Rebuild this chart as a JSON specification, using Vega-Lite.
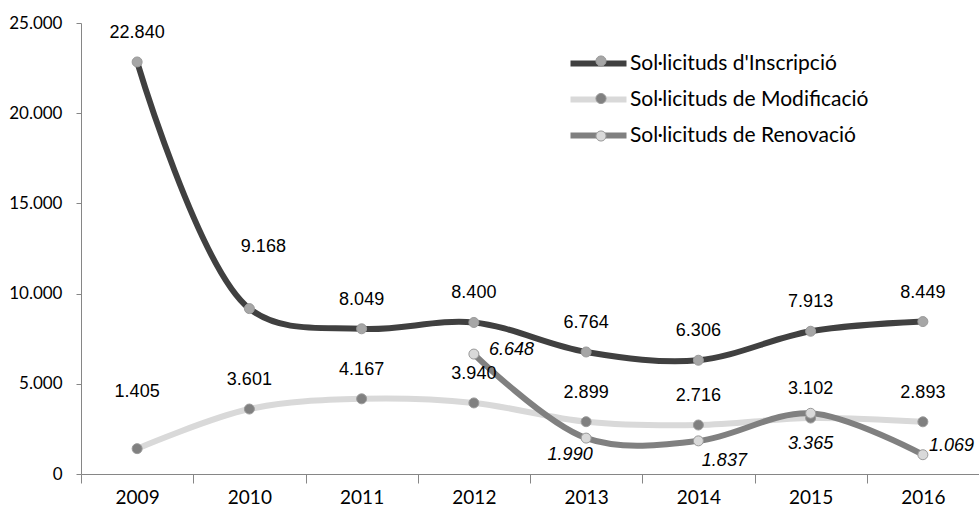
{
  "$schema": "https://vega.github.io/schema/vega-lite/v6.json",
  "autosize": "none",
  "width": 898,
  "height": 451,
  "padding": {"left": 81, "top": 23, "right": 0, "bottom": 34},
  "config": {
    "locale": {"number": {"decimal": ",", "thousands": ".", "grouping": [3], "currency": ["", " €"]}},
    "view": {"stroke": null},
    "font": "Lato"
  },
  "data": {
    "values": [
      {"serie": "Sol·licituds d'Inscripció", "any": "2009", "valor": 22840},
      {"serie": "Sol·licituds d'Inscripció", "any": "2010", "valor": 9168},
      {"serie": "Sol·licituds d'Inscripció", "any": "2011", "valor": 8049},
      {"serie": "Sol·licituds d'Inscripció", "any": "2012", "valor": 8400},
      {"serie": "Sol·licituds d'Inscripció", "any": "2013", "valor": 6764},
      {"serie": "Sol·licituds d'Inscripció", "any": "2014", "valor": 6306},
      {"serie": "Sol·licituds d'Inscripció", "any": "2015", "valor": 7913},
      {"serie": "Sol·licituds d'Inscripció", "any": "2016", "valor": 8449},
      {"serie": "Sol·licituds de Modificació", "any": "2009", "valor": 1405},
      {"serie": "Sol·licituds de Modificació", "any": "2010", "valor": 3601},
      {"serie": "Sol·licituds de Modificació", "any": "2011", "valor": 4167},
      {"serie": "Sol·licituds de Modificació", "any": "2012", "valor": 3940},
      {"serie": "Sol·licituds de Modificació", "any": "2013", "valor": 2899},
      {"serie": "Sol·licituds de Modificació", "any": "2014", "valor": 2716},
      {"serie": "Sol·licituds de Modificació", "any": "2015", "valor": 3102},
      {"serie": "Sol·licituds de Modificació", "any": "2016", "valor": 2893},
      {"serie": "Sol·licituds de Renovació", "any": "2012", "valor": 6648},
      {"serie": "Sol·licituds de Renovació", "any": "2013", "valor": 1990},
      {"serie": "Sol·licituds de Renovació", "any": "2014", "valor": 1837},
      {"serie": "Sol·licituds de Renovació", "any": "2015", "valor": 3365},
      {"serie": "Sol·licituds de Renovació", "any": "2016", "valor": 1069}
    ]
  },
  "encoding": {
    "x": {
      "field": "any", "type": "ordinal",
      "scale": {"type": "band", "paddingInner": 0, "paddingOuter": 0},
      "axis": {
        "title": null, "labelAngle": 0, "tickBand": "extent",
        "domainColor": "#868686", "tickColor": "#868686", "tickSize": 9,
        "labelFont": "Lato", "labelFontSize": 19, "labelColor": "#000", "labelPadding": 5
      }
    },
    "y": {
      "field": "valor", "type": "quantitative",
      "scale": {"domain": [0, 25000], "nice": false},
      "axis": {
        "title": null, "values": [0, 5000, 10000, 15000, 20000, 25000], "format": ",d",
        "grid": false, "domainColor": "#868686", "tickColor": "#868686", "tickSize": 5,
        "labelFont": "Lato", "labelFontSize": 17, "labelColor": "#000", "labelPadding": 14
      }
    }
  },
  "layer": [
    {
      "mark": {"type": "line", "interpolate": "catmull-rom", "strokeWidth": 6, "strokeCap": "round"},
      "encoding": {
        "stroke": {
          "field": "serie", "type": "nominal",
          "scale": {"range": ["#404040", "#d9d9d9", "#808080"]},
          "legend": {
            "title": null, "orient": "none", "legendX": 497, "legendY": 20,
            "symbolType": "M-1.6,0H1.6", "symbolSize": 1225, "symbolStrokeWidth": 6,
            "symbolFillColor": "transparent",
            "labelFont": "Lato", "labelFontSize": 21, "labelColor": "#000", "labelLimit": 400,
            "rowPadding": 3, "labelOffset": 11, "padding": 0
          }
        }
      }
    },
    {
      "mark": {"type": "point", "filled": true, "size": 100, "stroke": "#9a9a9a", "strokeWidth": 1, "opacity": 1},
      "encoding": {
        "fill": {
          "field": "serie", "type": "nominal",
          "scale": {"range": ["#a6a6a6", "#808080", "#d9d9d9"]},
          "legend": {
            "title": null, "orient": "none", "legendX": 502, "legendY": 20,
            "symbolType": "M0.29,0A0.29,0.29,0,1,1,-0.29,0A0.29,0.29,0,1,1,0.29,0Z",
            "symbolSize": 1225, "symbolStrokeColor": "#9a9a9a", "symbolStrokeWidth": 1,
            "labelExpr": "''", "labelFontSize": 21,
            "rowPadding": 9.5, "labelOffset": 11, "padding": 0, "symbolOpacity": 1
          }
        }
      }
    },
    {
      "transform": [{"filter": "datum.serie != 'Sol·licituds de Renovació' && !(datum.serie == \"Sol·licituds d'Inscripció\" && datum.any == '2010') && !(datum.serie == 'Sol·licituds de Modificació' && datum.any == '2009')"}],
      "mark": {"type": "text", "font": "Liberation Sans", "fontSize": 18, "color": "#000", "baseline": "middle", "dy": -29},
      "encoding": {"text": {"field": "valor", "type": "quantitative", "format": ",d"}}
    },
    {
      "transform": [{"filter": "(datum.serie == \"Sol·licituds d'Inscripció\" && datum.any == '2010')"}],
      "mark": {"type": "text", "font": "Liberation Sans", "fontSize": 18, "color": "#000", "baseline": "middle", "dy": -62, "dx": 14},
      "encoding": {"text": {"field": "valor", "type": "quantitative", "format": ",d"}}
    },
    {
      "transform": [{"filter": "(datum.serie == 'Sol·licituds de Modificació' && datum.any == '2009')"}],
      "mark": {"type": "text", "font": "Liberation Sans", "fontSize": 18, "color": "#000", "baseline": "middle", "dy": -57},
      "encoding": {"text": {"field": "valor", "type": "quantitative", "format": ",d"}}
    },
    {
      "transform": [{"filter": "datum.serie == 'Sol·licituds de Renovació' && datum.any == '2012'"}],
      "mark": {"type": "text", "font": "Liberation Sans", "fontSize": 18, "fontStyle": "italic", "color": "#000", "baseline": "middle", "align": "left", "dx": 15, "dy": -4},
      "encoding": {"text": {"field": "valor", "type": "quantitative", "format": ",d"}}
    },
    {
      "transform": [{"filter": "datum.serie == 'Sol·licituds de Renovació' && datum.any == '2013'"}],
      "mark": {"type": "text", "font": "Liberation Sans", "fontSize": 18, "fontStyle": "italic", "color": "#000", "baseline": "middle", "align": "center", "dx": -16, "dy": 17},
      "encoding": {"text": {"field": "valor", "type": "quantitative", "format": ",d"}}
    },
    {
      "transform": [{"filter": "datum.serie == 'Sol·licituds de Renovació' && datum.any == '2014'"}],
      "mark": {"type": "text", "font": "Liberation Sans", "fontSize": 18, "fontStyle": "italic", "color": "#000", "baseline": "middle", "align": "center", "dx": 26, "dy": 20},
      "encoding": {"text": {"field": "valor", "type": "quantitative", "format": ",d"}}
    },
    {
      "transform": [{"filter": "datum.serie == 'Sol·licituds de Renovació' && datum.any == '2015'"}],
      "mark": {"type": "text", "font": "Liberation Sans", "fontSize": 18, "fontStyle": "italic", "color": "#000", "baseline": "middle", "align": "center", "dx": 0, "dy": 31},
      "encoding": {"text": {"field": "valor", "type": "quantitative", "format": ",d"}}
    },
    {
      "transform": [{"filter": "datum.serie == 'Sol·licituds de Renovació' && datum.any == '2016'"}],
      "mark": {"type": "text", "font": "Liberation Sans", "fontSize": 18, "fontStyle": "italic", "color": "#000", "baseline": "middle", "align": "left", "dx": 6, "dy": -9},
      "encoding": {"text": {"field": "valor", "type": "quantitative", "format": ",d"}}
    }
  ],
  "resolve": {"scale": {"stroke": "independent", "fill": "independent"}}
}
